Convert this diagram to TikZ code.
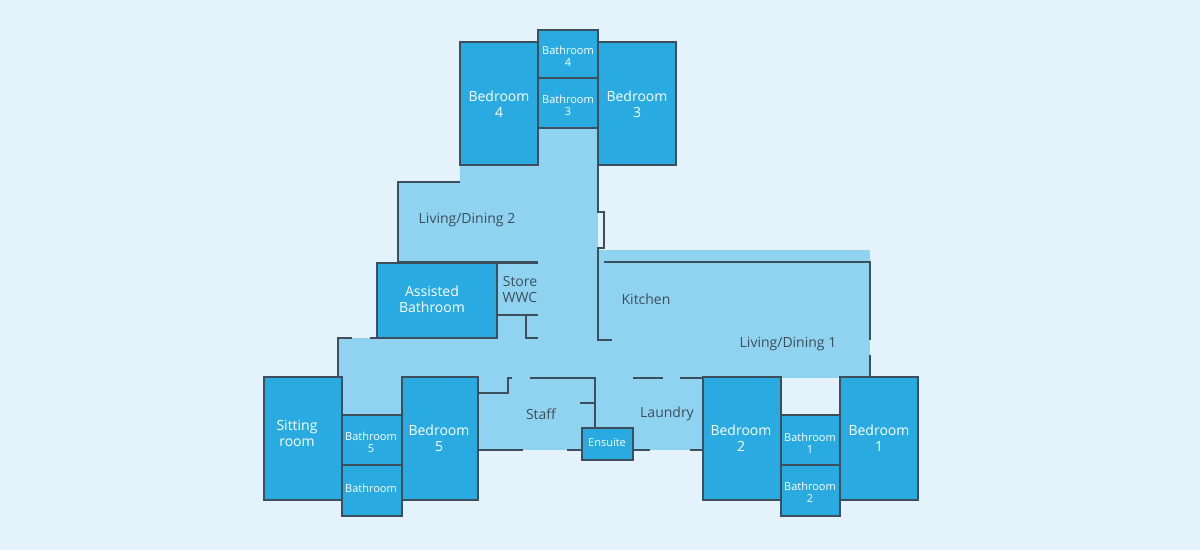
\documentclass[tikz,border=0pt]{standalone}
\usepackage{fontspec}
\setmainfont{Open Sans}
\definecolor{bg}{HTML}{E3F2FB}
\definecolor{lite}{HTML}{8FD3F0}
\definecolor{dark}{HTML}{29ABE2}
\definecolor{wall}{HTML}{3D4F5C}
\begin{document}
\begin{tikzpicture}[x=0.5pt,y=-0.5pt,
    room/.style = {fill=#1, draw=wall, line width=0.6pt},
    room/.default = dark,
    lbl/.style = {align=center, font=\fontsize{7}{8}\selectfont, text=white},
    llbl/.style = {align=center, font=\fontsize{7}{8}\selectfont, text=wall},
    slbl/.style = {align=center, font=\fontsize{5.5}{6}\selectfont, text=white, inner sep=0pt}
                    ]
    \fill[bg] (0,0) rectangle (1200,550);
    % light areas
    \fill[lite] (538,128) rectangle (598,340);
    \fill[lite] (398,182) -- (460,182) -- (460,165) -- (540,165) -- (540,262) -- (398,262) -- cycle;
    \fill[lite] (598,250) rectangle (870,378);
    \fill[lite] (338,338) rectangle (870,378);
    \fill[lite] (338,378) rectangle (402,415);
    \fill[lite] (478,378) rectangle (703,450);
    \fill[lite] (497,263) rectangle (538,338);
    % light walls
    \draw[wall,line width=0.6pt] (398,262) -- (398,182) -- (460,182);
    \draw[wall,line width=0.6pt] (398,262) -- (538,262);
    \draw[wall,line width=0.6pt] (598,165) -- (598,212) -- (604,212) -- (604,248) -- (598,248) -- (598,340) -- (612,340);
    \draw[wall,line width=0.6pt] (604,262) -- (870,262) -- (870,340);
    \draw[wall,line width=0.6pt] (870,355) -- (870,378);
    \draw[wall,line width=0.6pt] (338,378) -- (338,338) -- (352,338);
    \draw[wall,line width=0.6pt] (370,338) -- (460,338);
    \draw[wall,line width=0.6pt] (484,338) -- (484,315) -- (538,315);
    \draw[wall,line width=0.6pt] (526,315) -- (526,338) -- (538,338);
    \draw[wall,line width=0.6pt] (478,393) -- (508,393) -- (508,378) -- (512,378);
    \draw[wall,line width=0.6pt] (530,378) -- (595,378) -- (595,428);
    \draw[wall,line width=0.6pt] (580,403) -- (595,403);
    \draw[wall,line width=0.6pt] (478,450) -- (523,450);
    \draw[wall,line width=0.6pt] (567,450) -- (582,450);
    \draw[wall,line width=0.6pt] (633,378) -- (663,378);
    \draw[wall,line width=0.6pt] (680,378) -- (703,378);
    \draw[wall,line width=0.6pt] (633,450) -- (650,450);
    \draw[wall,line width=0.6pt] (690,450) -- (703,450);
    % dark rooms
    \draw[room] (460,42) rectangle (538,165);
    \draw[room] (538,30) rectangle (598,78);
    \draw[room] (538,78) rectangle (598,128);
    \draw[room] (598,42) rectangle (676,165);
    \draw[room] (377,263) rectangle (497,338);
    \draw[room] (264,377) rectangle (342,500);
    \draw[room] (342,415) rectangle (402,465);
    \draw[room] (342,465) rectangle (402,516);
    \draw[room] (402,377) rectangle (478,500);
    \draw[room] (582,428) rectangle (633,460);
    \draw[room] (703,377) rectangle (781,500);
    \draw[room] (781,415) rectangle (840,465);
    \draw[room] (781,465) rectangle (840,516);
    \draw[room] (840,377) rectangle (918,500);
    \draw[wall,line width=0.6pt] (497,263) -- (538,263);
    % labels
    \node[lbl] (bed4) at (499,104) {Bedroom\\4};
    \node[slbl] (bath4) at (568,56) {Bathroom\\4};
    \node[slbl] (bath3) at (568,105) {Bathroom\\3};
    \node[lbl] (bed3) at (637,104) {Bedroom\\3};
    \node[llbl] (ld2) at (467,220) {Living/Dining 2};
    \node[lbl] (assist) at (432,299) {Assisted\\Bathroom};
    \node[llbl] (store) at (520,290) {Store\\WWC};
    \node[llbl] (kitchen) at (646,299) {Kitchen};
    \node[llbl] (ld1) at (788,344) {Living/Dining 1};
    \node[lbl] (sitting) at (297,433) {Sitting\\room};
    \node[slbl] (bath5) at (371,442) {Bathroom\\5};
    \node[slbl] (bath) at (371,488) {Bathroom};
    \node[lbl] (bed5) at (439,438) {Bedroom\\5};
    \node[llbl] (staff) at (541,414) {Staff};
    \node[slbl] (ensuite) at (607,443) {Ensuite};
    \node[llbl] (laundry) at (667,414) {Laundry};
    \node[lbl] (bed2) at (741,438) {Bedroom\\2};
    \node[slbl] (bath1) at (810,443) {Bathroom\\1};
    \node[slbl] (bath2) at (810,492) {Bathroom\\2};
    \node[lbl] (bed1) at (879,438) {Bedroom\\1};
\end{tikzpicture}
\end{document}
